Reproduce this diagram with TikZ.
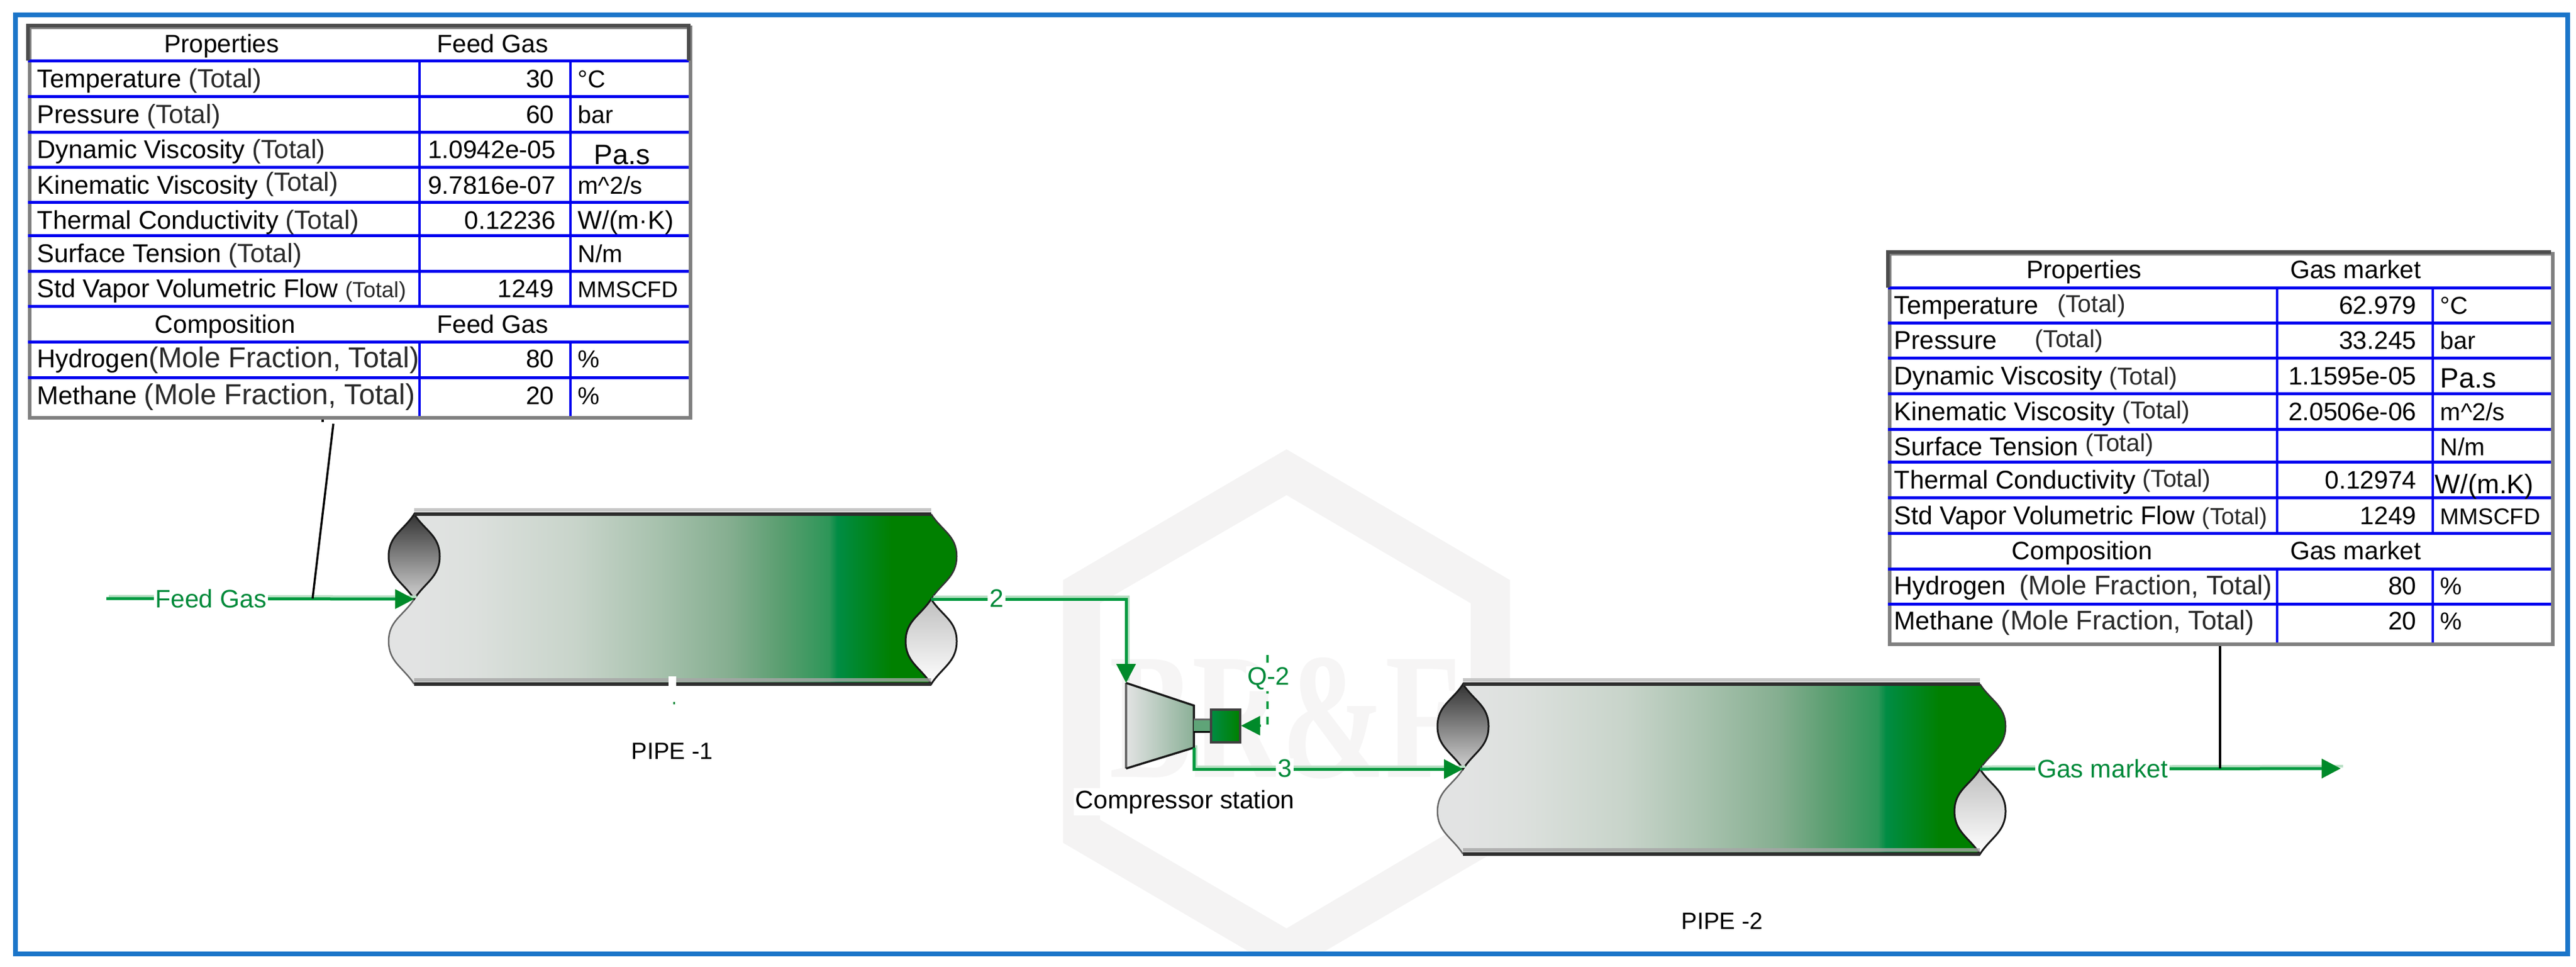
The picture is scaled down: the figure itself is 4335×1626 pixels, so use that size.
\documentclass[tikz,border=0pt]{standalone}
\usepackage{fontspec}
\setmainfont{Liberation Sans}
\newfontfamily\wmfont{Liberation Serif}
\usetikzlibrary{arrows.meta}
\definecolor{frameblue}{HTML}{1B75C9}
\definecolor{rowblue}{HTML}{0000F0}
\definecolor{strm}{HTML}{009A40}
\definecolor{halo}{HTML}{B8E0C4}
\definecolor{tipgreen}{HTML}{008A2A}
\definecolor{lblgreen}{HTML}{008A3A}
\definecolor{wmark}{HTML}{F4F3F3}
\definecolor{wmtext}{HTML}{F6F5F5}
\definecolor{totc}{HTML}{2A2A2A}
\definecolor{compend}{HTML}{8BB097}
\definecolor{shaftc}{HTML}{5FA478}
\definecolor{pa}{HTML}{E2E3E3}
\definecolor{pb}{HTML}{DCE0DD}
\definecolor{pc}{HTML}{C8D4CA}
\definecolor{pc1}{HTML}{A8C2AE}
\definecolor{pc2}{HTML}{85AE90}
\definecolor{pc3}{HTML}{5A9E70}
\definecolor{pc4}{HTML}{2D9658}
\definecolor{pd}{HTML}{008C44}
\definecolor{pe}{HTML}{008000}
\pgfdeclarehorizontalshading{pipegrad}{100bp}{color(0bp)=(pa); color(27.3bp)=(pa); color(32.5bp)=(pb); color(41.5bp)=(pc); color(48.5bp)=(pc1); color(55bp)=(pc2); color(59.5bp)=(pc3); color(63.75bp)=(pc4); color(64.5bp)=(pd); color(69.25bp)=(pe); color(100bp)=(pe)}
\newcommand{\cellfont}{\fontsize{12.1pt}{14pt}\selectfont}
\newcommand{\labfont}{\fontsize{12.3pt}{14pt}\selectfont}
\newcommand{\unitfont}{\fontsize{11.7pt}{14pt}\selectfont}
\newcommand{\mmscfd}{{\fontsize{10.9pt}{14pt}\selectfont MMSCFD}}
\newcommand{\tot}[1][12.6]{{\fontsize{#1pt}{14pt}\selectfont\color{totc}(Total)}}
\newcommand{\molef}[1][13.8]{{\fontsize{#1pt}{14pt}\selectfont\color{totc}(Mole Fraction, Total)}}
% prefix, label x, value x, unit x, baseline y, label, value, unit
\newcommand{\trow}[8]{%
  \node[celllab] (#1l) at (#2,#5) {#6};
  \node[cellval] (#1v) at (#3,#5) {#7};
  \node[cellunit] (#1u) at (#4,#5) {#8};
}
% the left lens outline and the lower right lens outline, in pipe-local units
\newcommand{\lenspathL}{(0,0) .. controls (-18,28) and (-43,36) .. (-43,71) .. controls (-43,106) and (-18,115) .. (0,143)
      .. controls (18,115) and (43,106) .. (43,71) .. controls (43,36) and (18,28) .. (0,0) -- cycle}
\newcommand{\lenspathR}{(870,143) .. controls (852,171) and (827,179) .. (827,214) .. controls (827,249) and (852,258) .. (870,286)
      .. controls (888,258) and (913,249) .. (913,214) .. controls (913,179) and (888,171) .. (870,143) -- cycle}
\newcommand{\pipebody}[3]{%
  \begin{scope}[shift={(#2,#3)}]
    \shade[top color=black!80,bottom color=black!18] \lenspathL;
    \shade[top color=black!25,bottom color=white] \lenspathR;
    \shade[shading=pipegrad]
      (0,0) -- (870,0) .. controls (888,28) and (913,36) .. (913,71) .. controls (913,106) and (888,115) .. (870,143)
      .. controls (852,171) and (827,179) .. (827,214) .. controls (827,249) and (852,258) .. (870,286)
      -- (0,286) .. controls (-18,258) and (-43,249) .. (-43,214) .. controls (-43,179) and (-18,171) .. (0,143)
      .. controls (18,115) and (43,106) .. (43,71) .. controls (43,36) and (18,28) .. (0,0) -- cycle;
    \draw[pipeedge]
      (870,0) .. controls (888,28) and (913,36) .. (913,71) .. controls (913,106) and (888,115) .. (870,143);
    \draw[pipeedge,draw=black!60]
      (0,143) .. controls (-18,171) and (-43,179) .. (-43,214) .. controls (-43,249) and (-18,258) .. (0,286);
    \draw[lensedge] \lenspathL;
    \draw[lensedge] \lenspathR;
    \draw[line width=.6mm,draw=black!22] (0,-7) -- (870,-7);
    \draw[line width=.6mm,draw=black!82] (0,0) -- (870,0);
    \draw[line width=.6mm,draw=black!35,opacity=.8] (0,279) -- (870,279);
    \draw[line width=.6mm,draw=black!82] (0,286) -- (870,286);
    \coordinate (#1in) at (0,143);
    \coordinate (#1out) at (870,143);
  \end{scope}
}
\tikzset{
  x=0.1mm,y=-0.1mm,
  celllab/.style={font=\labfont,inner sep=0pt,anchor=base west,text=black},
  cellunit/.style={font=\unitfont,inner sep=0pt,anchor=base west,text=black},
  cellval/.style={font=\cellfont,inner sep=0pt,anchor=base east,text=black},
  cellhead/.style={font=\cellfont,inner sep=0pt,anchor=base,text=black},
  rowline/.style={draw=rowblue,line width=.5mm},
  colline/.style={draw=rowblue,line width=.35mm},
  tabframe/.style={rectangle,draw=black!50,line width=.55mm,inner sep=0pt,anchor=north west},
  pipeedge/.style={draw=black!80,line width=.25mm},
  lensedge/.style={draw=black!90,line width=.3mm},
  stream/.style={draw=strm,line width=.5mm,-{Triangle[length=3.2mm,width=3.2mm,color=tipgreen]}},
  halostream/.style={draw=halo,line width=.45mm,transform canvas={shift={(.4mm,.4mm)}}},
  streamlabel/.style={font=\cellfont,text=lblgreen,fill=white,inner xsep=.3mm,inner ysep=.2mm},
  eqlabel/.style={font=\cellfont,text=black,fill=white,inner sep=.3mm},
  leader/.style={draw=black,line width=.35mm},
}
\begin{document}
\begin{tikzpicture}
\useasboundingbox (0,0) rectangle (4335,1626);
\fill[white] (0,0) rectangle (4335,1626);

% watermark
\begin{scope}
  \clip (22,21) rectangle (4317,1601);
  \fill[wmark,even odd rule]
    (2165,756) -- (2541,976) -- (2541,1418) -- (2165,1638) -- (1789,1418) -- (1789,976) -- cycle
    (2165,833) -- (2475,1015) -- (2475,1379) -- (2165,1562) -- (1851,1379) -- (1851,1015) -- cycle;
  \node[inner sep=0pt,anchor=base,text=wmtext,font=\wmfont\bfseries\fontsize{86pt}{90pt}\selectfont] (wm) at (2163,1307) {\scalebox{.69}[1]{BR\&F}};
\end{scope}

% frame
\node[rectangle,draw=frameblue,line width=.8mm,inner sep=0pt,minimum width=429.5mm,minimum height=158mm,anchor=north west] (outer) at (22,21) {};

% equipment: pipes
\pipebody{pa}{697}{865}
\pipebody{pb}{2462}{1151}
\fill[white] (1125,1138) rectangle (1138,1156);
\fill[lblgreen] (1133,1181) rectangle (1136,1185);

% compressor
\shade[left color=pa,right color=compend] (1895,1149) -- (2009,1187) -- (2009,1258) -- (1895,1293) -- cycle;
\draw[line width=.35mm,draw=black!60] (1895,1149) -- (1895,1293);
\draw[line width=.35mm,draw=black!90] (1895,1293) -- (2009,1258) -- (2009,1187) -- (1895,1149);
\fill[shaftc] (2009,1210) rectangle (2038,1231);
\draw[line width=.3mm,draw=black!60] (2009,1210) -- (2038,1210);
\draw[line width=.3mm,draw=black] (2009,1231) -- (2038,1231);
\node[rectangle,left color=pd,right color=pe,draw=black!75,line width=.4mm,inner sep=0pt,minimum width=4.9mm,minimum height=5.5mm] (motor) at (2062,1221) {};
\coordinate (compin) at (1895,1149);
\coordinate (compout) at (2009,1258);

% connection coordinates
\coordinate (feedstart) at (179,1007);
\coordinate (fjoin) at (526,1007);
\coordinate (marketend) at (3939,1293);
\coordinate (gjoin) at (3736,1293);
\coordinate (qtop) at (2133,1102);
\coordinate (qbend) at (2133,1221);
\coordinate (fleadtop) at (561,713);

% streams (light fringe then stream)
\draw[halostream] (feedstart) -- (pain);
\draw[halostream] (paout) -- (paout -| compin) -- (compin);
\draw[halostream] (compout) -- (compout |- pbin) -- (pbin);
\draw[halostream] (pbout) -- (marketend);
\draw[stream] (feedstart) -- (pain);
\draw[stream] (paout) -- (paout -| compin) -- (compin);
\draw[stream] (compout) -- (compout |- pbin) -- (pbin);
\draw[stream] (pbout) -- (marketend);
\draw[stream,line width=.35mm,dash pattern=on 1.3mm off 1.3mm] (qtop) -- (qbend) -- (motor.east);

% leaders
\draw[leader] (fleadtop) -- (fjoin);
\draw[leader] (543,700) -- (543,710);

% labels
\node[streamlabel] (lfeed) at (355,1007) {Feed Gas};
\node[streamlabel] (ltwo) at (1677,1007) {2};
\node[streamlabel] (lthree) at (2162,1293) {3};
\node[streamlabel] (lq) at (2135,1142) {Q-2};
\node[streamlabel] (lmarket) at (3538,1293) {Gas market};
\node[eqlabel,font=\fontsize{11.3pt}{14pt}\selectfont] (lpa) at (1131,1264) {PIPE -1};
\node[eqlabel] (lcomp) at (1994,1349) {Compressor station};
\node[eqlabel,font=\fontsize{11.3pt}{14pt}\selectfont] (lpb) at (2898,1550) {PIPE -2};

% ---------- left table ----------
\node[tabframe,fill=white,minimum width=111.2mm,minimum height=65.7mm] (ftab) at (47,43) {};
\foreach \yy in {102,162,222,281,340,396,456,515,575,635} \draw[rowline] (47,\yy) -- (1159,\yy);
\foreach \xx in {706,960} {
  \draw[colline] (\xx,102) -- (\xx,515);
  \draw[colline] (\xx,575) -- (\xx,700);
}
\draw[line width=.55mm,draw=black!70] (47,102) -- (47,43) -- (1159,43) -- (1159,102);
\node[cellhead] (fh1) at (373,88) {Properties};
\node[cellhead] (fh2) at (829,88) {Feed Gas};
\trow{fa}{62}{933}{972}{147}{Temperature \tot}{30}{°C}
\trow{fb}{62}{933}{972}{207}{Pressure \tot}{60}{bar}
\trow{fc}{62}{936}{999}{266}{Dynamic Viscosity \tot}{1.0942e-05}{\raisebox{-1mm}{\fontsize{13.4pt}{14pt}\selectfont Pa.s}}
\trow{fd}{62}{936}{972}{326}{Kinematic Viscosity \raisebox{.5mm}{\tot}}{9.7816e-07}{m\textasciicircum 2/s}
\trow{fe}{62}{936}{972}{385}{Thermal Conductivity \tot}{0.12236}{\fontsize{12.3pt}{14pt}\selectfont W/(m·K)}
\trow{ff}{62}{933}{972}{441}{Surface Tension \tot}{}{N/m}
\trow{fg}{62}{933}{972}{500}{Std Vapor Volumetric Flow \tot[10.5]}{1249}{\mmscfd}
\node[cellhead] (fh3) at (379,560) {Composition};
\node[cellhead] (fh4) at (829,560) {Feed Gas};
\trow{fi}{62}{933}{972}{618}{Hydrogen\molef}{80}{\%}
\trow{fj}{62}{933}{972}{680}{Methane \molef}{20}{\%}

% ---------- right table ----------
\node[tabframe,fill=white,minimum width=111.6mm,minimum height=65.7mm] (gtab) at (3177,424) {};
\foreach \yy in {484,543,602,662,722,777,837,897,957,1016} \draw[rowline] (3177,\yy) -- (4293,\yy);
\foreach \xx in {3832,4094} {
  \draw[colline] (\xx,484) -- (\xx,897);
  \draw[colline] (\xx,957) -- (\xx,1081);
}
\draw[line width=.55mm,draw=black!70] (3177,484) -- (3177,424) -- (4293,424);
\node[cellhead] (gh1) at (3507,468) {Properties};
\node[cellhead] (gh2) at (3964,468) {Gas market};
\trow{ga}{3187}{4067}{4106}{528}{Temperature\hspace{3.2mm}\raisebox{.3mm}{\tot[11.7]}}{62.979}{°C}
\trow{gb}{3187}{4067}{4106}{587}{Pressure\hspace{6.4mm}\raisebox{.3mm}{\tot[11.7]}}{33.245}{bar}
\trow{gc}{3187}{4067}{4106}{647}{Dynamic Viscosity \tot[11.7]}{1.1595e-05}{\raisebox{-.5mm}{\fontsize{13.4pt}{14pt}\selectfont Pa.s}}
\trow{gd}{3187}{4067}{4106}{707}{Kinematic Viscosity \raisebox{.3mm}{\tot[11.7]}}{2.0506e-06}{m\textasciicircum 2/s}
\trow{ge}{3187}{4067}{4106}{766}{Surface Tension \raisebox{.7mm}{\tot[11.7]}}{}{N/m}
\trow{gf}{3187}{4067}{4097}{822}{Thermal Conductivity \raisebox{.3mm}{\tot[11.7]}}{0.12974}{\raisebox{-.8mm}{\fontsize{12.9pt}{14pt}\selectfont W/(m.K)}}
\trow{gg}{3187}{4067}{4106}{882}{Std Vapor Volumetric Flow \tot[11.2]}{1249}{\mmscfd}
\node[cellhead] (gh3) at (3504,941) {Composition};
\node[cellhead] (gh4) at (3964,941) {Gas market};
\trow{gi}{3187}{4067}{4106}{1000}{Hydrogen\hspace{2.3mm}\molef[12.9]}{80}{\%}
\trow{gj}{3187}{4067}{4106}{1059}{Methane \molef[12.9]}{20}{\%}
\draw[leader] (gtab.south -| gjoin) -- (gjoin);
\end{tikzpicture}
\end{document}
